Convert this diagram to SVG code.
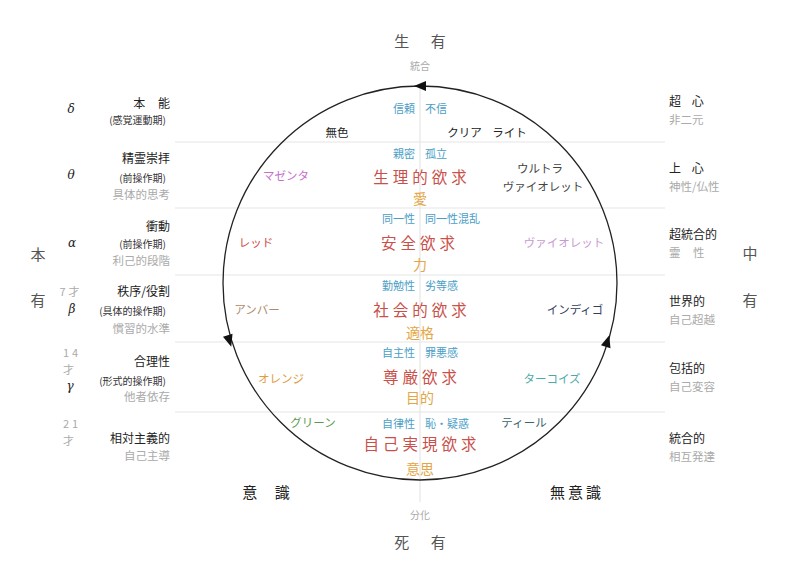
<svg xmlns="http://www.w3.org/2000/svg" width="800" height="578" viewBox="0 0 800 578">
<defs>
<path id="tri" d="M6,0 L-6,-5 L-6,5 z" fill="#111"/>
<style>
text{font-family:"Noto Sans CJK JP","Noto Sans",sans-serif;dominant-baseline:central}
.c{text-anchor:middle}
.r{text-anchor:end}
.big{font-size:15px;fill:#555}
.hd{font-size:12px;fill:#222}
.sb{font-size:10px;fill:#333}
.gr{font-size:11.5px;fill:#aaa}
.bl{font-size:11px;fill:#4a9ec6}
.rd{font-size:15.5px;fill:#c9504a;letter-spacing:4px}
.gd{font-size:14px;fill:#e3a646}
.col{font-size:11.5px}
.sym{font-size:12px;fill:#222;font-family:"DejaVu Serif",serif;font-style:italic}
.age{font-size:11px;fill:#aaa;letter-spacing:3px}
</style>
</defs>
<rect width="800" height="578" fill="#fff"/>
<g id="grid" stroke="#e6e6e6" stroke-width="1.2">
<line x1="175" y1="142" x2="665" y2="142"/>
<line x1="175" y1="208" x2="665" y2="208"/>
<line x1="175" y1="275" x2="665" y2="275"/>
<line x1="175" y1="342" x2="665" y2="342"/>
<line x1="175" y1="412" x2="665" y2="412"/>
<line x1="420" y1="86" x2="420" y2="502"/>
</g>
<g id="connectors">
<circle cx="420" cy="283" r="197" fill="none" stroke="#222" stroke-width="1.3"/>
<use href="#tri" transform="translate(420 86) rotate(180)"/>
<use href="#tri" transform="translate(229.5 341) rotate(73)"/>
<use href="#tri" transform="translate(607.5 341) rotate(-72.5)"/>
</g>
<g id="axis">
<text class="big c" x="420" y="40" word-spacing="18">生 有</text>
<text class="gr c" x="420" y="65" style="font-size:10px">統合</text>
<text class="big c" x="420" y="541" word-spacing="18">死 有</text>
<text class="gr c" x="420" y="514" style="font-size:10px">分化</text>
<text class="big c" x="266" y="491" style="fill:#222" word-spacing="14">意 識</text>
<text class="big c" x="577" y="491" style="fill:#222;letter-spacing:3px">無意識</text>
<text class="big c" x="38" y="253">本</text>
<text class="big c" x="38" y="299">有</text>
<text class="big c" x="750" y="252">中</text>
<text class="big c" x="750" y="299">有</text>
</g>
<g id="row0">
<text class="bl r" x="415" y="108">信頼</text>
<text class="bl" x="425" y="108">不信</text>
<text class="col c" x="337" y="132" fill="#222">無色</text>
<text class="col c" x="487" y="132" fill="#222" word-spacing="8">クリア ライト</text>
</g>
<g id="row1">
<text class="bl r" x="415" y="153">親密</text>
<text class="bl" x="425" y="153">孤立</text>
<text class="rd c" x="422" y="176">生理的欲求</text>
<text class="gd c" x="420" y="198">愛</text>
<text class="col c" x="286" y="175" fill="#c76ecb">マゼンタ</text>
<text class="col c" x="540" y="168" fill="#444">ウルトラ</text>
<text class="col c" x="543" y="186" fill="#444">ヴァイオレット</text>
</g>
<g id="row2">
<text class="bl r" x="415" y="218">同一性</text>
<text class="bl" x="425" y="218">同一性混乱</text>
<text class="rd c" x="420" y="242">安全欲求</text>
<text class="gd c" x="420" y="264">力</text>
<text class="col c" x="256" y="242" fill="#d0504a">レッド</text>
<text class="col c" x="564" y="242" fill="#c89ad0">ヴァイオレット</text>
</g>
<g id="row3">
<text class="bl r" x="415" y="285">勤勉性</text>
<text class="bl" x="425" y="285">劣等感</text>
<text class="rd c" x="422" y="309">社会的欲求</text>
<text class="gd c" x="420" y="332">適格</text>
<text class="col c" x="257" y="309" fill="#b08a6a">アンバー</text>
<text class="col c" x="575" y="309" fill="#33405e">インディゴ</text>
</g>
<g id="row4">
<text class="bl r" x="415" y="352">自主性</text>
<text class="bl" x="425" y="352">罪悪感</text>
<text class="rd c" x="422" y="376">尊厳欲求</text>
<text class="gd c" x="420" y="397">目的</text>
<text class="col c" x="281" y="378" fill="#e09a40">オレンジ</text>
<text class="col c" x="552" y="378" fill="#4aaaa8">ターコイズ</text>
</g>
<g id="row5">
<text class="bl r" x="415" y="423">自律性</text>
<text class="bl" x="425" y="423">恥・疑惑</text>
<text class="rd c" x="422" y="443">自己実現欲求</text>
<text class="gd c" x="420" y="468">意思</text>
<text class="col c" x="313" y="422" fill="#5a9a50">グリーン</text>
<text class="col c" x="524" y="422" fill="#3a6670">ティール</text>
</g>
<g id="left">
<text class="sym c" x="71" y="109">δ</text>
<text class="hd r" x="170" y="102" word-spacing="10">本 能</text>
<text class="sb r" x="166" y="119">(感覚運動期)</text>
<text class="sym c" x="71" y="175">θ</text>
<text class="hd r" x="170" y="157">精霊崇拝</text>
<text class="sb r" x="166" y="177">(前操作期)</text>
<text class="gr r" x="170" y="194">具体的思考</text>
<text class="sym c" x="72" y="243">α</text>
<text class="hd r" x="170" y="225">衝動</text>
<text class="sb r" x="166" y="243">(前操作期)</text>
<text class="gr r" x="170" y="260">利己的段階</text>
<text class="age c" x="71" y="291">7才</text>
<text class="sym c" x="72" y="309">β</text>
<text class="hd r" x="170" y="290">秩序/役割</text>
<text class="sb r" x="166" y="310">(具体的操作期)</text>
<text class="gr r" x="170" y="328">慣習的水準</text>
<text class="age c" x="72" y="352">14</text>
<text class="age c" x="70" y="369">才</text>
<text class="sym c" x="70" y="386">γ</text>
<text class="hd r" x="170" y="360">合理性</text>
<text class="sb r" x="166" y="380">(形式的操作期)</text>
<text class="gr r" x="170" y="396">他者依存</text>
<text class="age c" x="72" y="423">21</text>
<text class="age c" x="70" y="440">才</text>
<text class="hd r" x="170" y="437">相対主義的</text>
<text class="gr r" x="170" y="455">自己主導</text>
</g>
<g id="right">
<text class="hd" x="669" y="100" word-spacing="8">超 心</text>
<text class="gr" x="669" y="119">非二元</text>
<text class="hd" x="669" y="167" word-spacing="8">上 心</text>
<text class="gr" x="669" y="186">神性/仏性</text>
<text class="hd" x="669" y="233">超統合的</text>
<text class="gr" x="669" y="252" word-spacing="10">霊 性</text>
<text class="hd" x="669" y="300">世界的</text>
<text class="gr" x="669" y="319">自己超越</text>
<text class="hd" x="669" y="367">包括的</text>
<text class="gr" x="669" y="386">自己変容</text>
<text class="hd" x="669" y="437">統合的</text>
<text class="gr" x="669" y="456">相互発達</text>
</g>
</svg>
